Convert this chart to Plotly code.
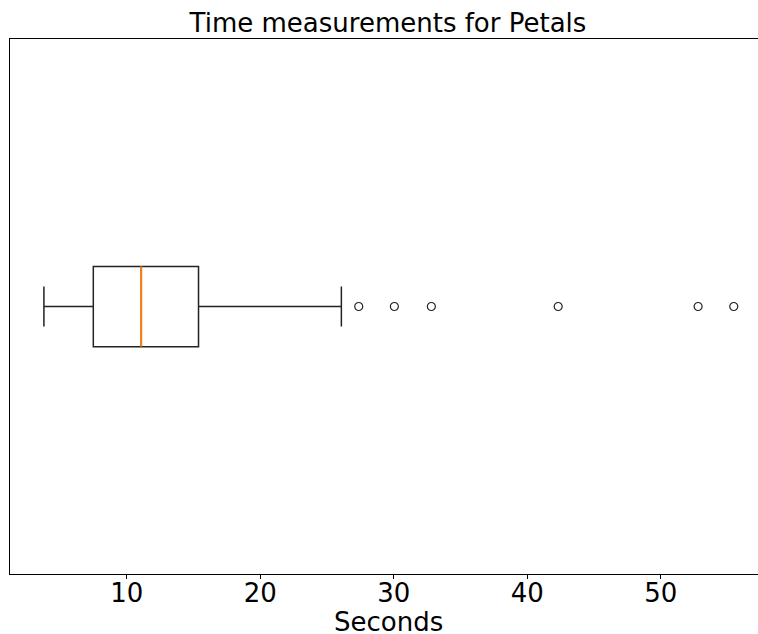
import plotly.graph_objects as go

# Box statistics (seconds)
position = [1]
lower_whisker = [3.79]
q1 = [7.49]
median = [11.08]
q3 = [15.37]
upper_whisker = [26.07]
outliers = [27.37, 30.04, 32.81, 42.31, 52.79, 55.46]

title_text = "Time measurements for Petals"
x_label = "Seconds"
tick_vals = [10, 20, 30, 40, 50]
tick_text = ["10", "20", "30", "40", "50"]
x_range = [1.25, 57.95]

BOX_W = 0.15
FONT = "DejaVu Sans"

# Page margin is removed (see post_script); the axes extend past the
# right edge of the window, as in the reference.
W, H = 768, 634
L, T, B, R = 10, 39, 634 - 574, 1

fig = go.Figure()
fig.add_trace(go.Box(
    y=position, q1=q1, median=median, q3=q3,
    lowerfence=lower_whisker, upperfence=upper_whisker,
    orientation="h", width=BOX_W, whiskerwidth=0.5,
    boxpoints=False, fillcolor="rgba(0,0,0,0)",
    line=dict(color="#222222", width=1.5), showlegend=False,
    hoverinfo="skip",
))
# orange median line
fig.add_trace(go.Scatter(
    x=[median[0], median[0]],
    y=[position[0] - BOX_W / 2, position[0] + BOX_W / 2],
    mode="lines", line=dict(color="#ff7f0e", width=2),
    showlegend=False, hoverinfo="skip",
))
# outliers
fig.add_trace(go.Scatter(
    x=outliers, y=position * len(outliers), mode="markers",
    marker=dict(symbol="circle-open", size=8, color="#222222",
                line=dict(width=1.2, color="#222222")),
    showlegend=False, hoverinfo="skip",
))

plot_w = W - L - R
plot_h = H - T - B

fig.update_layout(
    autosize=False,
    width=W, height=H,
    margin=dict(l=L, r=R, t=T, b=B, pad=0, autoexpand=False),
    paper_bgcolor="white", plot_bgcolor="white",
    font=dict(family=FONT, color="black"),
    title=dict(text=title_text, x=388 / W, xref="container", xanchor="center",
               y=1 - 23 / H, yref="container", yanchor="middle",
               font=dict(size=26, family=FONT, color="black"), automargin=False),
    xaxis=dict(range=x_range, tickvals=tick_vals, ticktext=tick_text,
               ticks="outside", ticklen=4, tickwidth=1, tickcolor="black",
               ticklabelstandoff=-8,
               tickfont=dict(size=26, family=FONT, color="black"),
               showgrid=False, zeroline=False, automargin=False,
               showline=True, linecolor="black", linewidth=1, mirror=True),
    yaxis=dict(range=[0.5, 1.5], showticklabels=False, ticks="", showgrid=False,
               zeroline=False, showline=True, linecolor="black", linewidth=1,
               mirror=True, automargin=False),
    annotations=[dict(text=x_label,
                      x=(388 - L) / plot_w, xref="paper", xanchor="center",
                      y=(574 - 622) / plot_h, yref="paper", yanchor="middle",
                      showarrow=False,
                      font=dict(size=26, family=FONT, color="black"))],
)

fig.write_html(
    "out.html",
    config={"displayModeBar": False},
    post_script=(
        "document.body.style.margin='0';"
        "document.documentElement.style.overflow='hidden';"
        "document.body.style.overflow='hidden';"
    ),
)
